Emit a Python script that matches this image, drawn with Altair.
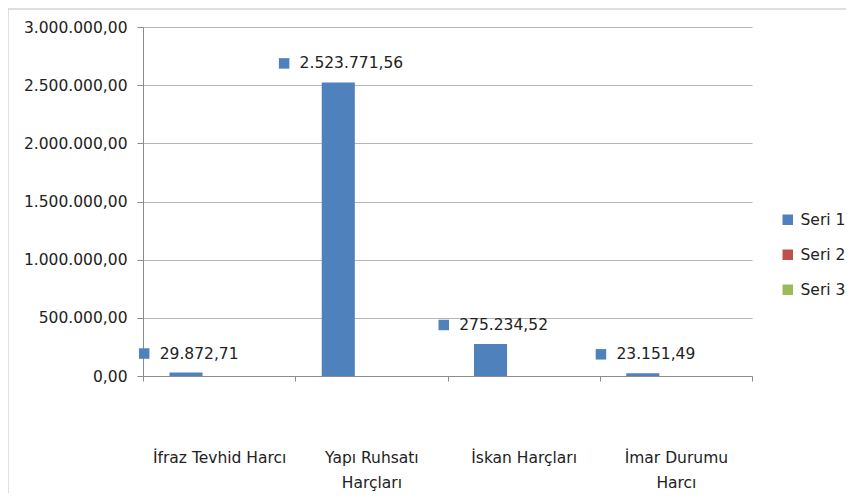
import json
import altair as alt
import pandas as pd

categories = ["İfraz Tevhid Harcı", "Yapı Ruhsatı Harçları", "İskan Harçları", "İmar Durumu Harcı"]
tick_lines = [["İfraz Tevhid Harcı"], ["Yapı Ruhsatı", "Harçları"], ["İskan Harçları"], ["İmar Durumu", "Harcı"]]
series_names = ["Seri 1", "Seri 2", "Seri 3"]
seri1 = [29872.71, 2523771.56, 275234.52, 23151.49]
seri2 = [None, None, None, None]
seri3 = [None, None, None, None]
series_colors = ["#4F81BD", "#C0504D", "#9BBB59"]
y_ticks = [0, 500000, 1000000, 1500000, 2000000, 2500000, 3000000]

FONT = "DejaVu Sans"
FS = 15.5
TXT = "#222222"
GRID = "#b5b5b5"
AXIS = "#8c8c8c"
WIDTH = 609
HALF_BAND = WIDTH / len(categories) / 2


def tr_fmt(v):
    s = f"{v:,.2f}"
    return s.replace(",", "_").replace(".", ",").replace("_", ".")


def text_width(s, fs):
    return sum((0.636 if ch.isdigit() else 0.318) for ch in s) * fs


rows = []
for sname, vals in zip(series_names, [seri1, seri2, seri3]):
    for c, v in zip(categories, vals):
        rows.append({"category": c, "series": sname, "value": v})
df = pd.DataFrame(rows)

lab = pd.DataFrame({"category": categories, "value": seri1})
lab["label"] = [tr_fmt(v) for v in seri1]
lab["sqoff"] = [HALF_BAND - 20 - text_width(s, FS) / 2 - 15.5 for s in lab["label"]]

cat_expr = "datum.label"
for c, lines in zip(categories, tick_lines):
    cat_expr = f"datum.label == {json.dumps(c)} ? {json.dumps(lines, ensure_ascii=False)} : ({cat_expr})"

y_expr = ("replace(replace(replace(format(datum.value, ',.2f'), regexp(',', 'g'), '_'), "
          "regexp('[.]', 'g'), ','), regexp('_', 'g'), '.')")

x_enc = alt.X(
    "category:N", sort=categories, title=None,
    scale=alt.Scale(paddingInner=0, paddingOuter=0),
    axis=alt.Axis(labelAngle=0, tickBand="extent", ticks=True, tickSize=5, tickColor=AXIS,
                  domainColor=AXIS, labelPadding=69, labelBaseline="top", labelLineHeight=25,
                  labelFont=FONT, labelFontSize=FS, labelColor=TXT, grid=False, labelLimit=0,
                  labelExpr=cat_expr),
)
y_enc = alt.Y(
    "value:Q", title=None,
    scale=alt.Scale(domain=[0, 3000000], nice=False),
    axis=alt.Axis(values=y_ticks, grid=True, gridColor=GRID, tickSize=6, tickColor=AXIS,
                  domainColor=AXIS, labelPadding=10, labelFont=FONT, labelFontSize=FS,
                  labelColor=TXT, labelExpr=y_expr),
)

bars = alt.Chart(df).mark_bar().encode(
    x=x_enc,
    y=y_enc,
    xOffset=alt.XOffset("series:N", scale=alt.Scale(domain=series_names, paddingInner=0, paddingOuter=0.8)),
    color=alt.Color("series:N", scale=alt.Scale(domain=series_names, range=series_colors),
                    legend=alt.Legend(orient="none", legendX=637, legendY=185, title=None,
                                      symbolType="square", symbolSize=110, symbolStrokeWidth=0,
                                      labelFont=FONT, labelFontSize=FS, labelColor=TXT,
                                      rowPadding=18, labelOffset=5, padding=0)),
)

texts = alt.Chart(lab).mark_text(align="center", baseline="middle", dx=-20, dy=-19,
                                 font=FONT, fontSize=FS, color=TXT).encode(
    x=alt.X("category:N", sort=categories),
    y="value:Q",
    text="label:N",
)

squares = alt.Chart(lab).mark_square(size=110, opacity=1, color=series_colors[0], yOffset=-19).encode(
    x=alt.X("category:N", sort=categories),
    y="value:Q",
    xOffset=alt.XOffset("sqoff:Q", scale=None),
)

frame_df = pd.DataFrame({"k": [0]})
left_border = alt.Chart(frame_df).mark_rule(color="#d4d4d4", strokeWidth=1.5).encode(
    x=alt.value(-135), y=alt.value(-19), y2=alt.value(470))
top_border = alt.Chart(frame_df).mark_rule(color="#d4d4d4", strokeWidth=1.5).encode(
    x=alt.value(-135), x2=alt.value(703), y=alt.value(-18))

chart = alt.layer(bars, squares, texts, left_border, top_border).resolve_scale(
    xOffset="independent"
).properties(
    width=WIDTH, height=349,
    autosize=alt.AutoSizeParams(type="none"),
    padding={"left": 135, "top": 19, "right": 94, "bottom": 117},
).configure_view(stroke=None)

chart.save("out.html", embed_options={"renderer": "svg", "actions": False})
